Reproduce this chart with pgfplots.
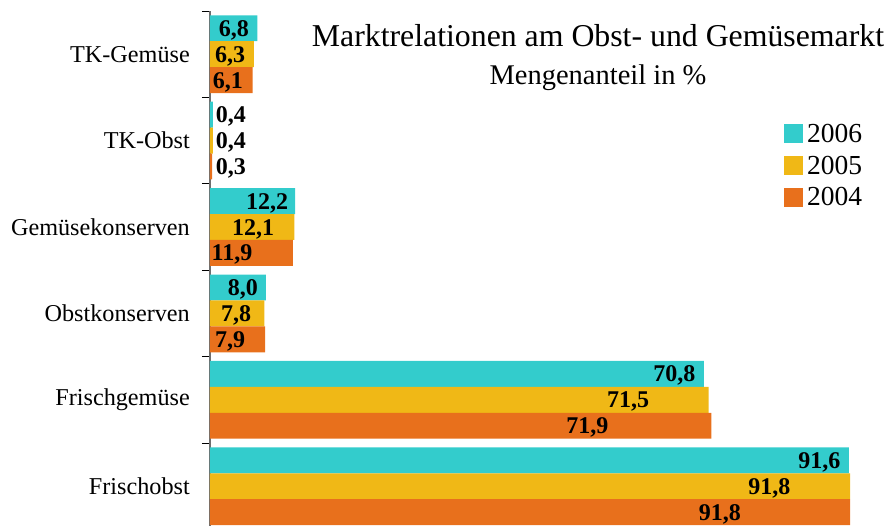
\documentclass[border=0pt]{standalone}
\usepackage{fontspec}
\setmainfont{Liberation Serif}
\usepackage{pgfplots}
\usepackage{pgfplotstable}
\pgfplotsset{compat=1.18}
\definecolor{c06}{RGB}{51,204,204}
\definecolor{c05}{RGB}{240,184,22}
\definecolor{c04}{RGB}{232,112,28}
\definecolor{axgray}{RGB}{110,110,110}
\pgfplotstableread{
y v6 v5 v4 l6 l5 l4 t6 t5 t4
5 6.8 6.3 6.1 3.44 2.87 2.58 6,8 6,3 6,1
4 0.4 0.4 0.3 3.01 3.01 3.01 0,4 0,4 0,3
3 12.2 12.1 11.9 8.18 6.17 3.16 12,2 12,1 11,9
2 8.0 7.8 7.9 4.73 3.73 2.87 8,0 7,8 7,9
1 70.8 71.5 71.9 66.6 59.96 54.1 70,8 71,5 71,9
0 91.6 91.8 91.8 87.36 80.2 73.1 91,6 91,8 91,8
}\data
\pgfplotsset{
  lbl/.style={only marks, mark=none, forget plot,
    point meta=explicit symbolic,
    nodes near coords={\pgfplotspointmeta},
    every node near coord/.style={anchor=base, yshift=-8pt, inner sep=0pt, font=\fontsize{24}{24}\selectfont\bfseries, text=black}},
}
\begin{document}
\begin{tikzpicture}
\begin{axis}[name=ax,
  scale only axis, width=676pt, height=515pt,
  xmin=0, xmax=96.93, ymin=-0.46, ymax=5.5,
  axis x line=none,
  axis y line*=left,
  y axis line style={draw=axgray, line width=1.2pt},
  ytick={0,...,5},
  yticklabels={Frischobst, Frischgemüse, Obstkonserven, Gemüsekonserven, TK-Obst, TK-Gemüse},
  major tick length=0pt,
  minor ytick={0.5,1.5,...,5.5},
  minor tick length=8pt, tick align=outside,
  minor tick style={black, line width=0.8pt},
  yticklabel style={anchor=east, inner sep=0pt, xshift=-20pt, font=\fontsize{24.2}{24}\selectfont},
  clip=false,
  legend style={at={(rel axis cs:0.849,0.783)}, anchor=north west, draw=none, fill=none,
    font=\fontsize{27.5}{28}\selectfont, inner sep=0pt, row sep=10pt,
    nodes={inner sep=1pt}},
  legend cell align=left,
  legend image code/.code={\fill[#1] (0pt,-9.5pt) rectangle (19pt,9.5pt);},
]
\addplot[xbar, bar width=0.3, bar shift=0.3, fill=c06, draw=none] table[x=v6, y=y]{\data};
\addlegendentry{\hspace{3pt}2006}
\addplot[xbar, bar width=0.3, bar shift=0, fill=c05, draw=none] table[x=v5, y=y]{\data};
\addlegendentry{\hspace{3pt}2005}
\addplot[xbar, bar width=0.3, bar shift=-0.3, fill=c04, draw=none] table[x=v4, y=y]{\data};
\addlegendentry{\hspace{3pt}2004}
\addplot[lbl] table[x=l6, y expr=\thisrow{y}+0.3, meta=t6]{\data};
\addplot[lbl] table[x=l5, y expr=\thisrow{y}, meta=t5]{\data};
\addplot[lbl] table[x=l4, y expr=\thisrow{y}-0.3, meta=t4]{\data};
\node[anchor=base, font=\fontsize{31.8}{32}\selectfont] at (rel axis cs:0.574,0.932) {Marktrelationen am Obst- und Gemüsemarkt};
\node[anchor=base, font=\fontsize{28.5}{29}\selectfont] at (rel axis cs:0.574,0.858) {Mengenanteil in \%};
\end{axis}
\pgfresetboundingbox
\path[use as bounding box] ([xshift=-210pt]ax.south west) rectangle ([xshift=2pt,yshift=11pt]ax.north east);
\end{tikzpicture}
\end{document}
